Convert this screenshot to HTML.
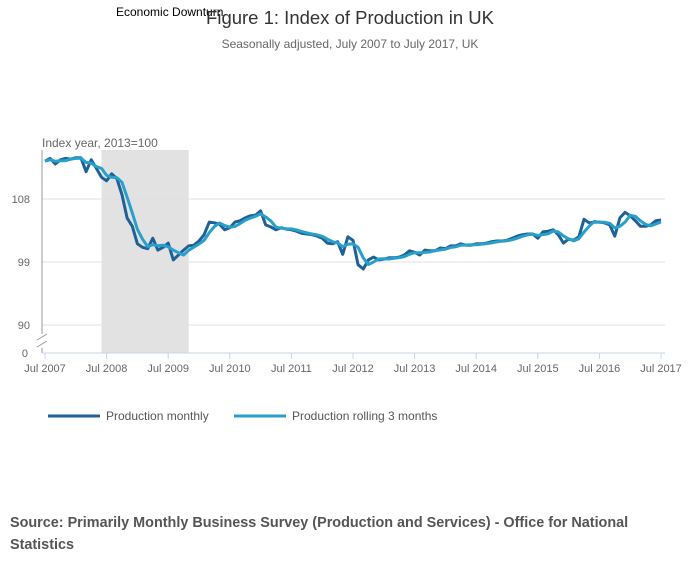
<!DOCTYPE html>
<html><head><meta charset="utf-8"><style>
body{margin:0;background:#fff;width:700px;height:574px;overflow:hidden;font-family:"Liberation Sans",sans-serif}
svg text{font-family:"Liberation Sans",sans-serif}
</style></head><body>
<svg id="chart" width="700" height="574">
<text x="116" y="16" font-size="12" fill="#000">Economic Downturn</text>
<text x="350" y="24" font-size="18.5" fill="#333" text-anchor="middle">Figure 1: Index of Production in UK</text>
<text x="350" y="48" font-size="12" fill="#666" text-anchor="middle">Seasonally adjusted, July 2007 to July 2017, UK</text>
<text x="42" y="147" font-size="12" fill="#666">Index year, 2013=100</text>
<g id="grid"></g>
<g id="lines"></g>
<g>
<line x1="48" y1="416" x2="100" y2="416" stroke="#206095" stroke-width="3"/>
<text x="106" y="420" font-size="12" fill="#555">Production monthly</text>
<line x1="234" y1="416" x2="286" y2="416" stroke="#27a0cc" stroke-width="3"/>
<text x="292" y="420" font-size="12" fill="#555">Production rolling 3 months</text>
</g>
<text x="10" y="527" font-size="14.4" font-weight="bold" fill="#555">Source: Primarily Monthly Business Survey (Production and Services) - Office for National</text>
<text x="10" y="549" font-size="14.4" font-weight="bold" fill="#555">Statistics</text>
</svg>
<script>
const yTicks=[90,99,108];
const xTickLabels=["Jul 2007","Jul 2008","Jul 2009","Jul 2010","Jul 2011","Jul 2012","Jul 2013","Jul 2014","Jul 2015","Jul 2016","Jul 2017"];
const downturn=[11.0,28.0];
const monthly=[113.4,113.8,113.0,113.6,113.8,113.7,113.9,113.9,111.9,113.6,112.4,111.1,
110.6,111.6,110.9,108.6,105.3,104.1,101.6,101.1,100.9,102.4,100.7,101.1,
101.7,99.3,100.0,100.7,101.3,101.4,102.0,102.9,104.7,104.6,104.4,103.6,
103.9,104.7,104.9,105.3,105.6,105.7,106.3,104.3,104.0,103.6,103.9,103.7,
103.6,103.4,103.1,103.0,102.9,102.7,102.4,101.7,101.6,101.9,100.1,102.6,
102.1,98.6,98.0,99.3,99.7,99.3,99.4,99.6,99.6,99.7,100.0,100.6,
100.4,100.0,100.7,100.6,100.6,101.0,100.9,101.3,101.3,101.6,101.4,101.4,
101.6,101.6,101.7,101.9,102.0,102.0,102.1,102.4,102.7,102.9,103.0,103.0,
102.4,103.3,103.4,103.6,102.9,101.7,102.3,102.1,102.6,105.1,104.6,104.7,
104.7,104.6,104.3,102.7,105.3,106.1,105.6,104.9,104.1,104.1,104.3,104.9,105.0];
const rolling=monthly.map((v,i)=>{const s=monthly.slice(Math.max(0,i-2),i+1);return s.reduce((a,b)=>a+b,0)/s.length;});
const X=m=>45+m*(616/120);
const Y=v=>199-(v-108)*7;
const NS="http://www.w3.org/2000/svg";
const grid=document.getElementById('grid');
function mk(p,tag,attrs){const e=document.createElementNS(NS,tag);for(const k in attrs)e.setAttribute(k,attrs[k]);p.appendChild(e);return e;}
const shade=mk(grid,'rect',{x:X(downturn[0]),y:150,width:X(downturn[1])-X(downturn[0]),height:203,fill:'#e2e2e2'});


yTicks.forEach(t=>{
 const l=mk(grid,'line',{x1:42,x2:665,y1:Y(t),y2:Y(t),stroke:'#e0e0e0'});
 
 
 const tx=mk(grid,'text',{x:30,y:Y(t)+4,'font-size':11,fill:'#666','text-anchor':'end'});tx.textContent=t;
 
 
});
const z=mk(grid,'text',{x:28,y:357,'font-size':11,fill:'#666','text-anchor':'end'});z.textContent='0';


mk(grid,'line',{x1:42,x2:42,y1:150,y2:353,stroke:'#999'});
mk(grid,'rect',{x:38,y:334,width:8,height:14,fill:'#fff'});
mk(grid,'line',{x1:37,x2:47,y1:340,y2:334,stroke:'#999'});
mk(grid,'line',{x1:37,x2:47,y1:347,y2:341,stroke:'#999'});
mk(grid,'line',{x1:42,x2:665,y1:353,y2:353,stroke:'#c8d4e6'});
xTickLabels.forEach((lab,i)=>{
 const x=X(i*12);
 mk(grid,'line',{x1:x,x2:x,y1:353,y2:359,stroke:'#c8d4e6'});
 const t=mk(grid,'text',{x:x,y:372,'font-size':11,fill:'#666','text-anchor':'middle'});t.textContent=lab;
 
 
});
const lines=document.getElementById('lines');
function draw(arr,color,name){
 const p=mk(lines,'path',{d:arr.map((v,i)=>(i?'L':'M')+X(i).toFixed(1)+' '+Y(v).toFixed(1)).join(''),fill:'none',stroke:color,'stroke-width':3,'stroke-linejoin':'round'});
 
 
}
draw(monthly,'#206095','line-production-monthly');
draw(rolling,'#27a0cc','line-production-rolling');
</script>
</body></html>
